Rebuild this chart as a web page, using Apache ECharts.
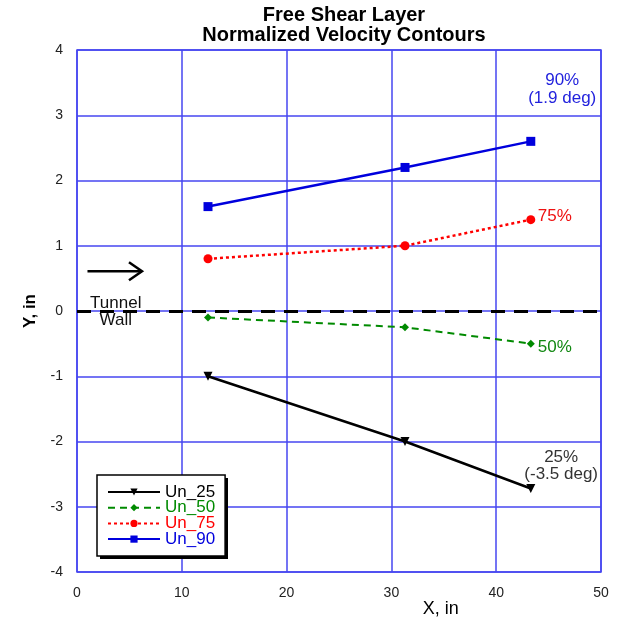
<!DOCTYPE html>
<html><head><meta charset="utf-8">
<script src="https://cdn.jsdelivr.net/npm/echarts@6/dist/echarts.min.js"></script>
<style>html,body{margin:0;padding:0;background:#fff}#c{width:618px;height:622px}</style>
</head><body><div id="c"></div>
<script>
const xPositions = [12.5, 31.3, 43.3];
const un25 = [-1.0, -2.0, -2.72];
const un50 = [-0.1, -0.25, -0.5];
const un75 = [0.8, 1.0, 1.4];
const un90 = [1.6, 2.2, 2.6];
const seriesNames = ['Un_25', 'Un_50', 'Un_75', 'Un_90'];
const xTicks = [0, 10, 20, 30, 40, 50];
const yTicks = [-4, -3, -2, -1, 0, 1, 2, 3, 4];

const FONT = '"Liberation Sans", Arial, Helvetica, sans-serif';
const GRID_BLUE = '#4646f0';
const colors = ['#000000', '#008a00', '#ff0000', '#0000dd'];
const values = [un25, un50, un75, un90];
const symbols = ['triangle', 'diamond', 'circle', 'rect'];
const symbolSizes = [9, 8, 9, 9];
const lineTypes = ['solid', [7, 5], [3, 3], 'solid'];

function pts(v) { return xPositions.map((x, i) => [x, v[i]]); }

const chart = echarts.init(document.getElementById('c'), null, {renderer: 'canvas'});
const series = seriesNames.map((name, k) => ({
  name, type: 'line', data: pts(values[k]),
  symbol: symbols[k], symbolSize: symbolSizes[k], symbolRotate: k === 0 ? 180 : 0,
  showAllSymbol: true,
  lineStyle: {color: colors[k], width: k === 1 ? 2 : 2.5, type: lineTypes[k]},
  itemStyle: {color: colors[k]},
  z: 5, animation: false
}));
series[0].markLine = {
  silent: true, symbol: 'none', animation: false,
  label: {show: false},
  lineStyle: {color: '#000', width: 3, type: [14, 9]},
  data: [{yAxis: 0}]
};

chart.setOption({
  animation: false,
  textStyle: {fontFamily: FONT},
  title: {
    text: 'Free Shear Layer\nNormalized Velocity Contours',
    left: 339, textAlign: 'center', top: 0,
    textStyle: {fontFamily: FONT, fontSize: 20, fontWeight: 'bold', color: '#000', lineHeight: 20}
  },
  grid: {left: 77, right: 17, top: 50, bottom: 50, show: true, borderColor: GRID_BLUE, borderWidth: 1.5, backgroundColor: '#fff'},
  xAxis: {
    type: 'value', min: 0, max: 50, interval: 10,
    axisLine: {show: false}, axisTick: {show: false},
    splitLine: {show: true, lineStyle: {color: GRID_BLUE, width: 1.5}},
    axisLabel: {fontFamily: FONT, fontSize: 14, color: '#222', margin: 14,
      formatter: v => xTicks.includes(v) ? String(v) : ''}
  },
  yAxis: {
    type: 'value', min: -4, max: 4, interval: 1,
    name: 'Y, in', nameLocation: 'middle', nameGap: 38, nameRotate: 90,
    nameTextStyle: {fontFamily: FONT, fontSize: 17, fontWeight: 'bold', color: '#000'},
    axisLine: {show: false}, axisTick: {show: false},
    splitLine: {show: true, lineStyle: {color: GRID_BLUE, width: 1.5}},
    axisLabel: {fontFamily: FONT, fontSize: 14, color: '#222', margin: 14,
      formatter: v => yTicks.includes(v) ? String(v) : ''}
  },
  legend: {
    orient: 'vertical', left: 97, top: 475,
    data: seriesNames.map((n, k) => ({name: n, textStyle: {color: colors[k]}})),
    itemWidth: 52, itemHeight: 9, itemGap: -1.3,
    padding: [8.5, 10, 8.5, 10],
    backgroundColor: '#fff', borderColor: '#000', borderWidth: 1.5, borderRadius: 0,
    textStyle: {fontFamily: FONT, fontSize: 17},
    selectedMode: false, z: 6
  },
  series
});

function px(x, y) { return chart.convertToPixel({gridIndex: 0}, [x, y]); }
const p90 = px(46.3, 3.39);
const p75 = px(43.3, 1.45);
const p50 = px(43.3, -0.55);
const p25 = px(46.2, -2.37);
const pTun = px(3.7, 0.0);
const pArr0 = px(1.0, 0.61);
const pArr1 = px(6.2, 0.61);
const pX = px(34.7, -4);

chart.setOption({
  graphic: [
    {type: 'rect', shape: {x: 100, y: 478, width: 128, height: 81}, style: {fill: '#000'}, z: 5, silent: true},
    {type: 'text', x: p90[0], y: p90[1], style: {text: '90%\n(1.9 deg)', fill: '#2222dd', font: '17px ' + FONT, align: 'center', verticalAlign: 'middle', lineHeight: 18}, z: 20},
    {type: 'text', x: p75[0] + 7, y: p75[1], style: {text: '75%', fill: '#ee1111', font: '17px ' + FONT, align: 'left', verticalAlign: 'middle'}, z: 20},
    {type: 'text', x: p50[0] + 7, y: p50[1], style: {text: '50%', fill: '#118811', font: '17px ' + FONT, align: 'left', verticalAlign: 'middle'}, z: 20},
    {type: 'text', x: p25[0], y: p25[1], style: {text: '25%\n(-3.5 deg)', fill: '#333', font: '17px ' + FONT, align: 'center', verticalAlign: 'middle', lineHeight: 17}, z: 20},
    {type: 'text', x: pTun[0], y: pTun[1] + 1, style: {text: 'Tunnel\nWall', fill: '#111', font: '17px ' + FONT, align: 'center', verticalAlign: 'middle', lineHeight: 17}, z: 20},
    {type: 'line', shape: {x1: pArr0[0], y1: pArr0[1], x2: pArr1[0], y2: pArr1[1]}, style: {stroke: '#000', lineWidth: 2.5}, z: 20},
    {type: 'polyline', shape: {points: [[pArr1[0] - 13, pArr1[1] - 9], [pArr1[0], pArr1[1]], [pArr1[0] - 13, pArr1[1] + 9]]}, style: {stroke: '#000', lineWidth: 2.5, fill: null}, z: 20},
    {type: 'text', x: pX[0], y: pX[1] + 37, style: {text: 'X, in', fill: '#000', font: '18px ' + FONT, align: 'center', verticalAlign: 'middle'}, z: 20}
  ]
});
</script>
</body></html>
